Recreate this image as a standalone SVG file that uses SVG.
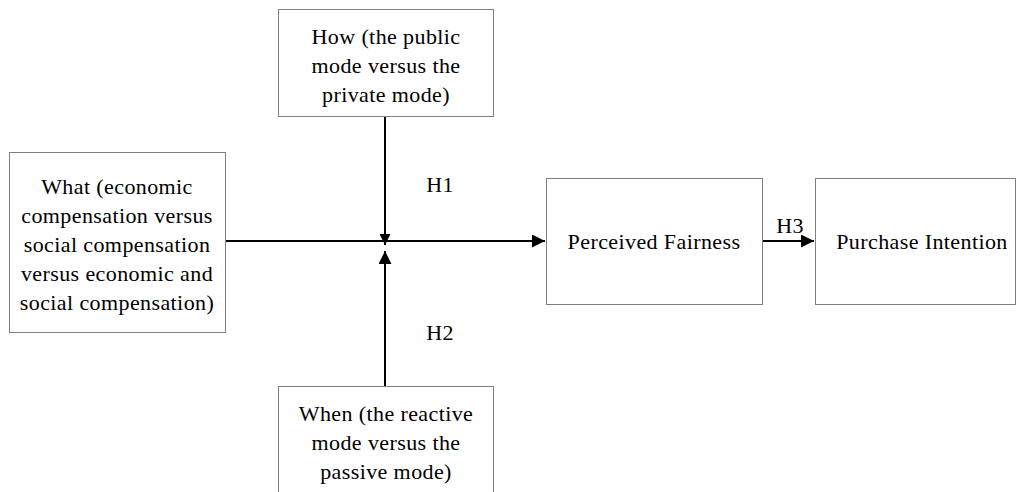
<svg xmlns="http://www.w3.org/2000/svg" width="1019" height="492" viewBox="0 0 1019 492">
<defs>
<style>
.box{fill:#fff;stroke:#808080;stroke-width:1}
.t{font-family:"Liberation Serif","Times New Roman",serif;font-size:22px;letter-spacing:0.4px;fill:#000;text-anchor:middle}
.l{fill:none;stroke:#000;stroke-width:2}
</style>
<marker id="ah" markerWidth="11" markerHeight="11" refX="11" refY="5.5" orient="auto" markerUnits="userSpaceOnUse" viewBox="0 0 11 11">
<path d="M0,0 L11,5.5 L0,11 z" fill="#000"/>
</marker>
<marker id="ahs" markerWidth="13" markerHeight="13" refX="13" refY="6.5" orient="auto" markerUnits="userSpaceOnUse" viewBox="0 0 13 13">
<path d="M0,0 L13,6.5 L0,13 z" fill="#000"/>
</marker>
</defs>
<rect width="1019" height="492" fill="#fff"/>
<g id="connectors">
<line class="l" x1="226" y1="241" x2="545" y2="241" marker-end="url(#ahs)"/>
<line class="l" x1="385" y1="117" x2="385" y2="245" marker-end="url(#ah)"/>
<line class="l" x1="385" y1="386" x2="385" y2="251" marker-end="url(#ahs)"/>
<line class="l" x1="762" y1="241" x2="814" y2="241" marker-end="url(#ahs)"/>
<text class="t" x="440" y="192">H1</text>
<text class="t" x="440" y="340">H2</text>
<text class="t" x="790" y="233">H3</text>
</g>
<g id="how">
<rect class="box" x="278.5" y="9.5" width="215" height="107"/>
<text class="t" x="386" y="44">How (the public</text>
<text class="t" x="386" y="73">mode versus the</text>
<text class="t" x="386" y="102">private mode)</text>
</g>
<g id="what">
<rect class="box" x="9.5" y="152.5" width="216" height="180"/>
<text class="t" x="117" y="194">What (economic</text>
<text class="t" x="117" y="223">compensation versus</text>
<text class="t" x="117" y="252">social compensation</text>
<text class="t" x="117" y="281">versus economic and</text>
<text class="t" x="117" y="310">social compensation)</text>
</g>
<g id="fairness">
<rect class="box" x="546.5" y="178.5" width="216" height="126"/>
<text class="t" x="654" y="249">Perceived Fairness</text>
</g>
<g id="intention">
<rect class="box" x="815.5" y="178.5" width="200" height="126"/>
<text class="t" x="922" y="249">Purchase Intention</text>
</g>
<g id="when">
<rect class="box" x="278.5" y="386.5" width="215" height="120"/>
<text class="t" x="386" y="421">When (the reactive</text>
<text class="t" x="386" y="450">mode versus the</text>
<text class="t" x="386" y="479">passive mode)</text>
</g>
</svg>
